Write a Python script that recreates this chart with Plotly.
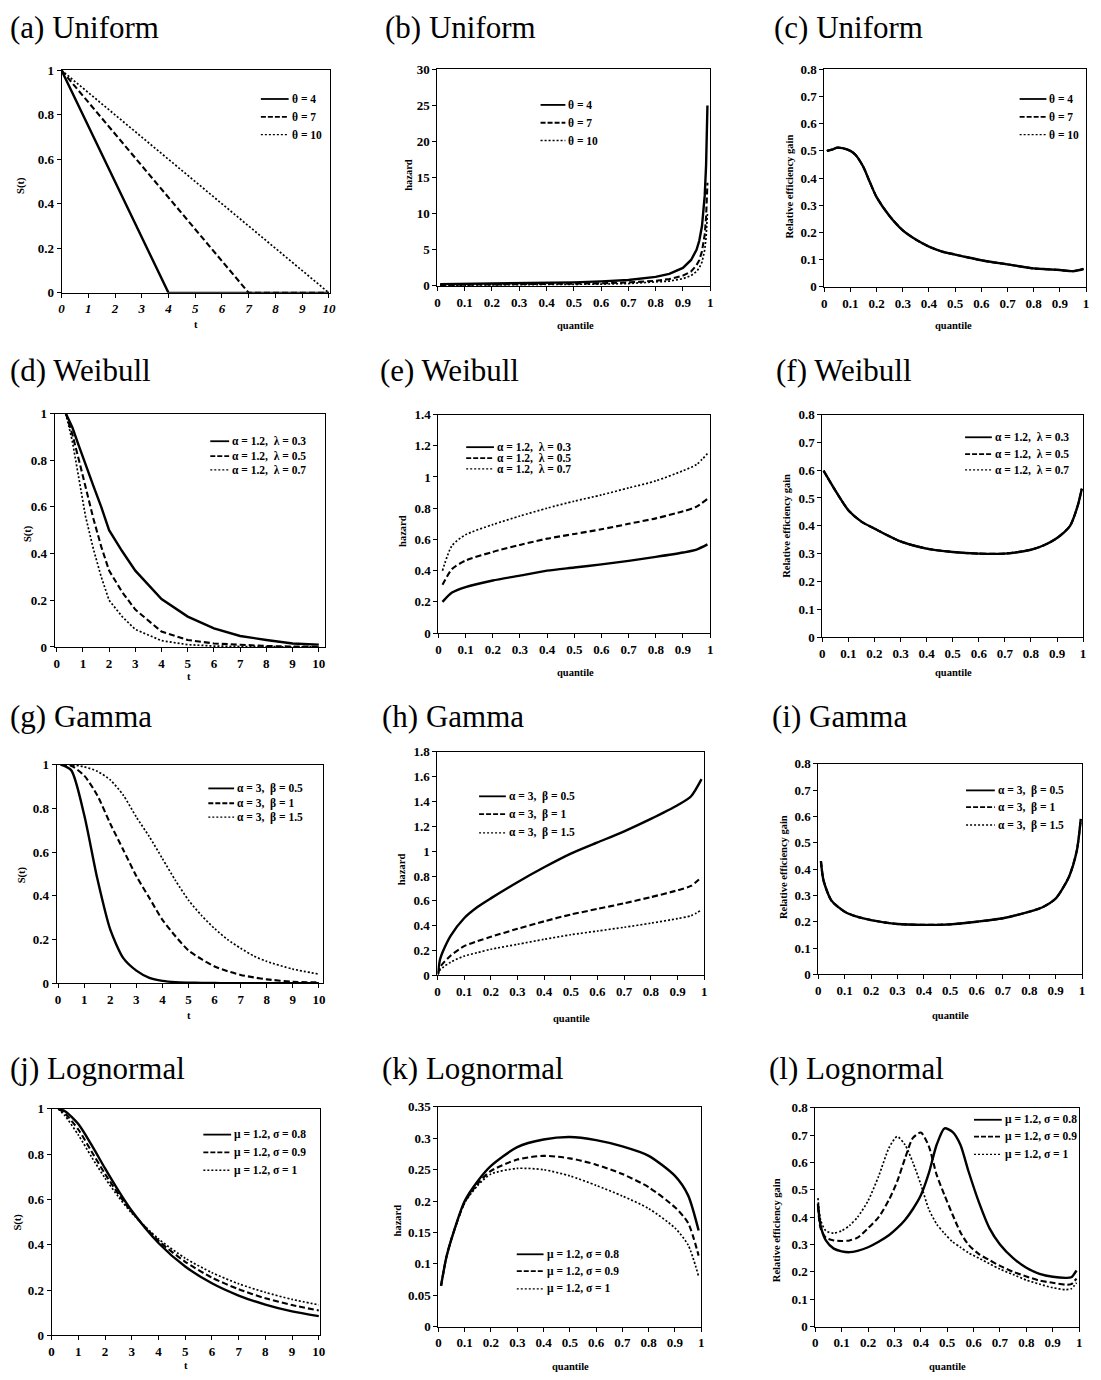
import plotly.graph_objects as go

W, H = 1101, 1380
SERIF = "Liberation Serif, Times New Roman, serif"

# ---------------- data ----------------
# (a) Uniform survival
T_UNIF = [0, 1, 2, 3, 4, 5, 6, 7, 8, 9, 10]
S_UNIF_4 = [1.0, 0.75, 0.5, 0.25, 0.0, 0.0, 0.0, 0.0, 0.0, 0.0, 0.0]
S_UNIF_7 = [1.0, 0.857, 0.714, 0.571, 0.429, 0.286, 0.143, 0.0, 0.0, 0.0, 0.0]
S_UNIF_10 = [1.0, 0.9, 0.8, 0.7, 0.6, 0.5, 0.4, 0.3, 0.2, 0.1, 0.0]

# (b) Uniform hazard by quantile
Q_B = [0.01, 0.1, 0.2, 0.3, 0.4, 0.5, 0.6, 0.7, 0.8, 0.85, 0.9, 0.93, 0.95, 0.96, 0.97, 0.98, 0.985, 0.99]
H_UNIF_4 = [0.25, 0.28, 0.31, 0.36, 0.42, 0.5, 0.63, 0.83, 1.25, 1.67, 2.5, 3.6, 5.0, 6.25, 8.3, 12.5, 16.7, 25.0]
H_UNIF_7 = [0.14, 0.16, 0.18, 0.2, 0.24, 0.29, 0.36, 0.48, 0.71, 0.95, 1.43, 2.0, 2.86, 3.57, 4.8, 7.1, 9.5, 14.3]
H_UNIF_10 = [0.1, 0.11, 0.125, 0.14, 0.17, 0.2, 0.25, 0.33, 0.5, 0.67, 1.0, 1.43, 2.0, 2.5, 3.3, 5.0, 6.7, 10.0]

# (c) Uniform relative efficiency gain (the three curves coincide)
Q_C = [0.01, 0.03, 0.05, 0.07, 0.1, 0.12, 0.15, 0.17, 0.2, 0.25, 0.3, 0.35, 0.4, 0.45, 0.5,
       0.55, 0.6, 0.65, 0.7, 0.75, 0.8, 0.85, 0.9, 0.95, 0.99]
G_UNIF = [0.50, 0.505, 0.512, 0.51, 0.50, 0.485, 0.44, 0.395, 0.33, 0.26, 0.208, 0.174, 0.148, 0.13, 0.119,
          0.108, 0.098, 0.09, 0.083, 0.075, 0.068, 0.065, 0.062, 0.058, 0.066]

# (d) Weibull survival
T_D = [0.35, 0.6, 0.85, 1.1, 1.4, 1.7, 2, 2.5, 3, 4, 5, 6, 7, 8, 9, 10]
S_WEIB_03 = [1.0, 0.94, 0.86, 0.78, 0.69, 0.60, 0.50, 0.41, 0.327, 0.205, 0.13, 0.08, 0.047, 0.03, 0.015, 0.01]
S_WEIB_05 = [1.0, 0.91, 0.80, 0.68, 0.55, 0.43, 0.327, 0.235, 0.16, 0.066, 0.03, 0.015, 0.008, 0.004, 0.002, 0.001]
S_WEIB_07 = [1.0, 0.88, 0.72, 0.56, 0.42, 0.30, 0.20, 0.13, 0.075, 0.027, 0.01, 0.004, 0.002, 0.001, 0.0, 0.0]

# (e) Weibull hazard by quantile
Q_E = [0.015, 0.05, 0.1, 0.2, 0.3, 0.4, 0.5, 0.6, 0.7, 0.8, 0.9, 0.95, 0.99]
H_WEIB_03 = [0.20, 0.26, 0.295, 0.337, 0.368, 0.40, 0.42, 0.44, 0.463, 0.488, 0.516, 0.535, 0.568]
H_WEIB_05 = [0.31, 0.41, 0.465, 0.52, 0.565, 0.605, 0.635, 0.665, 0.70, 0.735, 0.78, 0.81, 0.86]
H_WEIB_07 = [0.40, 0.56, 0.63, 0.695, 0.75, 0.80, 0.845, 0.885, 0.93, 0.975, 1.04, 1.08, 1.15]

# (f) Weibull relative efficiency gain
Q_F = [0.005, 0.05, 0.1, 0.15, 0.2, 0.3, 0.4, 0.5, 0.6, 0.7, 0.8, 0.85, 0.9, 0.95, 0.98, 0.995]
G_WEIB = [0.598, 0.527, 0.456, 0.415, 0.39, 0.344, 0.318, 0.306, 0.30, 0.30, 0.314, 0.33, 0.356, 0.40, 0.474, 0.533]

# (g) Gamma survival
T_G = [0.1, 0.5, 1, 1.5, 2, 2.5, 3, 3.5, 4, 4.5, 5, 5.5, 6, 6.5, 7, 7.5, 8, 9, 10]
S_GAM_05 = [1.0, 0.975, 0.77, 0.48, 0.245, 0.115, 0.058, 0.025, 0.011, 0.005, 0.003, 0.002, 0.001,
            0.0, 0.0, 0.0, 0.0, 0.0, 0.0]
S_GAM_1 = [1.0, 0.995, 0.95, 0.86, 0.73, 0.61, 0.49, 0.39, 0.29, 0.215, 0.15, 0.11, 0.077,
           0.055, 0.038, 0.027, 0.018, 0.007, 0.004]
S_GAM_15 = [1.0, 1.0, 0.99, 0.97, 0.93, 0.86, 0.76, 0.67, 0.57, 0.47, 0.38, 0.31, 0.25,
            0.20, 0.16, 0.125, 0.10, 0.065, 0.042]

# (h) Gamma hazard by quantile
Q_H = [0.002, 0.01, 0.02, 0.05, 0.1, 0.15, 0.2, 0.3, 0.4, 0.5, 0.6, 0.7, 0.8, 0.9, 0.95, 0.99]
H_GAM_05 = [0.02, 0.13, 0.19, 0.32, 0.46, 0.55, 0.62, 0.75, 0.87, 0.98, 1.07, 1.16, 1.26, 1.37, 1.44, 1.58]
H_GAM_1 = [0.01, 0.065, 0.095, 0.16, 0.235, 0.275, 0.31, 0.375, 0.435, 0.49, 0.535, 0.58, 0.63, 0.685, 0.72, 0.79]
H_GAM_15 = [0.007, 0.043, 0.063, 0.107, 0.155, 0.183, 0.21, 0.25, 0.29, 0.327, 0.357, 0.387, 0.42, 0.457, 0.48, 0.527]

# (i) Gamma relative efficiency gain
Q_I = [0.01, 0.02, 0.05, 0.1, 0.15, 0.2, 0.3, 0.4, 0.5, 0.6, 0.7, 0.8, 0.85, 0.9, 0.95, 0.98, 0.995]
G_GAM = [0.43, 0.356, 0.28, 0.238, 0.218, 0.206, 0.191, 0.188, 0.19, 0.20, 0.213, 0.238, 0.255, 0.288, 0.37, 0.47, 0.59]

# (j) Lognormal survival
T_J = [0.25, 0.5, 1, 1.5, 2, 2.5, 3, 4, 5, 6, 7, 8, 9, 10]
S_LN_08 = [1.0, 0.99, 0.933, 0.84, 0.737, 0.639, 0.55, 0.408, 0.304, 0.23, 0.176, 0.136, 0.106, 0.085]
S_LN_09 = [1.0, 0.98, 0.909, 0.811, 0.713, 0.624, 0.545, 0.418, 0.325, 0.255, 0.204, 0.164, 0.134, 0.11]
S_LN_1 = [1.0, 0.97, 0.885, 0.787, 0.694, 0.612, 0.54, 0.426, 0.341, 0.277, 0.228, 0.19, 0.159, 0.135]

# (k) Lognormal hazard by quantile
Q_K = [0.01, 0.03, 0.05, 0.1, 0.15, 0.2, 0.3, 0.4, 0.5, 0.6, 0.7, 0.8, 0.9, 0.95, 0.99]
H_LN_08 = [0.065, 0.11, 0.14, 0.20, 0.232, 0.256, 0.286, 0.298, 0.302, 0.297, 0.287, 0.272, 0.24, 0.209, 0.153]
H_LN_09 = [0.065, 0.11, 0.14, 0.198, 0.228, 0.248, 0.266, 0.272, 0.268, 0.258, 0.243, 0.222, 0.19, 0.165, 0.113]
H_LN_1 = [0.065, 0.11, 0.14, 0.197, 0.225, 0.243, 0.252, 0.25, 0.24, 0.225, 0.208, 0.188, 0.157, 0.13, 0.08]

# (l) Lognormal relative efficiency gain
Q_L = [0.01, 0.02, 0.04, 0.07, 0.1, 0.13, 0.16, 0.2, 0.24, 0.28, 0.31, 0.34, 0.37, 0.4, 0.43,
       0.46, 0.49, 0.52, 0.55, 0.58, 0.62, 0.66, 0.7, 0.75, 0.8, 0.85, 0.9, 0.95, 0.97, 0.99]
G_LN_08 = [0.45, 0.37, 0.315, 0.285, 0.275, 0.272, 0.277, 0.29, 0.31, 0.335, 0.36, 0.39, 0.43, 0.48, 0.56,
           0.665, 0.725, 0.712, 0.665, 0.57, 0.455, 0.36, 0.30, 0.25, 0.215, 0.193, 0.182, 0.178, 0.18, 0.205]
G_LN_09 = [0.44, 0.36, 0.325, 0.315, 0.313, 0.315, 0.325, 0.36, 0.40, 0.465, 0.53, 0.615, 0.69, 0.71, 0.66,
           0.555, 0.48, 0.41, 0.345, 0.30, 0.265, 0.243, 0.222, 0.20, 0.183, 0.168, 0.16, 0.153, 0.155, 0.175]
G_LN_1 = [0.47, 0.39, 0.35, 0.342, 0.35, 0.37, 0.40, 0.46, 0.55, 0.655, 0.695, 0.665, 0.60, 0.52, 0.43,
          0.375, 0.34, 0.31, 0.29, 0.27, 0.25, 0.23, 0.21, 0.19, 0.17, 0.155, 0.142, 0.135, 0.138, 0.16]

THETA_LABELS = ["\u03b8 = 4", "\u03b8 = 7", "\u03b8 = 10"]
WEIBULL_LABELS = ["\u03b1 = 1.2,\u00a0 \u03bb = 0.3", "\u03b1 = 1.2,\u00a0 \u03bb = 0.5", "\u03b1 = 1.2,\u00a0 \u03bb = 0.7"]
GAMMA_LABELS = ["\u03b1 = 3,\u00a0 \u03b2 = 0.5", "\u03b1 = 3,\u00a0 \u03b2 = 1", "\u03b1 = 3,\u00a0 \u03b2 = 1.5"]
LOGN_LABELS = ["\u03bc = 1.2, \u03c3 = 0.8", "\u03bc = 1.2, \u03c3 = 0.9", "\u03bc = 1.2, \u03c3 = 1"]

# ---------------- styling ----------------
STYLES = {
    "solid": dict(color="black", width=2.4, dash="solid"),
    "dash": dict(color="black", width=2.1, dash="6px,3px"),
    "dot": dict(color="black", width=1.7, dash="2px,2px"),
}
LEG_STYLES = {
    "solid": dict(color="black", width=1.8),
    "dash": dict(color="black", width=1.8, dash="5px,2px"),
    "dot": dict(color="black", width=1.4, dash="2px,2px"),
}
ORDER = ["solid", "dash", "dot"]

# panel boxes are (left, right, top, bottom) in pixels
panels = [
    dict(title="(a) Uniform", tpos=(5, 21), box=(59, 330, 64, 289), xr=[0, 10.05], yr=[0, 1], xdt=1, ydt=0.2,
         xl="t", xlp=(195, 321), yl="S(t)", ylp=(18, 180), italic_x=True, shape="linear",
         series=[(T_UNIF, S_UNIF_4), (T_UNIF, S_UNIF_7), (T_UNIF, S_UNIF_10)],
         labels=THETA_LABELS, leg=(260, 288, [93, 111, 129])),
    dict(title="(b) Uniform", tpos=(383, 21), box=(438, 713, 63, 282), xr=[0, 1], yr=[0, 30], xdt=0.1, ydt=5,
         xl="quantile", xlp=(577, 322), yl="hazard", ylp=(408, 170), shape="linear",
         series=[(Q_B, H_UNIF_4), (Q_B, H_UNIF_7), (Q_B, H_UNIF_10)],
         labels=THETA_LABELS, leg=(542, 567, [99, 117, 135])),
    dict(title="(c) Uniform", tpos=(775, 21), box=(828, 1092, 63, 283), xr=[0, 1], yr=[0, 0.8], xdt=0.1, ydt=0.1,
         xl="quantile", xlp=(958, 322), yl="Relative efficiency gain", ylp=(792, 182), shape="spline",
         series=[(Q_C, G_UNIF), (Q_C, G_UNIF), (Q_C, G_UNIF)],
         labels=THETA_LABELS, leg=(1025, 1052, [93, 111, 129])),
    dict(title="(d) Weibull", tpos=(5, 367), box=(52, 325, 411, 647), xr=[-0.08, 10.25], yr=[0, 1], xdt=1, ydt=0.2,
         xl="t", xlp=(188, 677), yl="S(t)", ylp=(25, 532), shape="linear",
         series=[(T_D, S_WEIB_03), (T_D, S_WEIB_05), (T_D, S_WEIB_07)],
         labels=WEIBULL_LABELS, leg=(209, 228, [439, 454, 468])),
    dict(title="(e) Weibull", tpos=(378, 367), box=(439, 713, 412, 633), xr=[0, 1], yr=[0, 1.4], xdt=0.1, ydt=0.2,
         xl="quantile", xlp=(577, 673), yl="hazard", ylp=(403, 530), shape="spline",
         series=[(Q_E, H_WEIB_03), (Q_E, H_WEIB_05), (Q_E, H_WEIB_07)],
         labels=WEIBULL_LABELS, leg=(467, 495, [445, 456, 467])),
    dict(title="(f) Weibull", tpos=(777, 367), box=(826, 1089, 412, 637), xr=[0, 1], yr=[0, 0.8], xdt=0.1, ydt=0.1,
         xl="quantile", xlp=(958, 673), yl="Relative efficiency gain", ylp=(790, 525), shape="spline",
         series=[(Q_F, G_WEIB), (Q_F, G_WEIB), (Q_F, G_WEIB)],
         labels=WEIBULL_LABELS, leg=(970, 997, [435, 452, 468])),
    dict(title="(g) Gamma", tpos=(5, 717), box=(54, 323, 766, 987), xr=[-0.06, 10.17], yr=[0, 1], xdt=1, ydt=0.2,
         xl="t", xlp=(188, 1020), yl="S(t)", ylp=(20, 877), shape="spline",
         series=[(T_G, S_GAM_05), (T_G, S_GAM_1), (T_G, S_GAM_15)],
         labels=GAMMA_LABELS, leg=(207, 233, [790, 805, 819])),
    dict(title="(h) Gamma", tpos=(380, 717), box=(438, 707, 753, 979), xr=[0, 1], yr=[0, 1.8], xdt=0.1, ydt=0.2,
         xl="quantile", xlp=(573, 1023), yl="hazard", ylp=(402, 872), shape="spline",
         series=[(Q_H, H_GAM_05), (Q_H, H_GAM_1), (Q_H, H_GAM_15)],
         labels=GAMMA_LABELS, leg=(480, 507, [798, 816, 835])),
    dict(title="(i) Gamma", tpos=(773, 717), box=(822, 1088, 765, 978), xr=[0, 1], yr=[0, 0.8], xdt=0.1, ydt=0.1,
         xl="quantile", xlp=(955, 1020), yl="Relative efficiency gain", ylp=(787, 870), shape="spline",
         series=[(Q_I, G_GAM), (Q_I, G_GAM), (Q_I, G_GAM)],
         labels=GAMMA_LABELS, leg=(971, 1000, [792, 809, 827])),
    dict(title="(j) Lognormal", tpos=(5, 1073), box=(49, 320, 1114, 1343), xr=[0, 10.06], yr=[0, 1], xdt=1, ydt=0.2,
         xl="t", xlp=(185, 1373), yl="S(t)", ylp=(15, 1228), shape="spline",
         series=[(T_J, S_LN_08), (T_J, S_LN_09), (T_J, S_LN_1)],
         labels=LOGN_LABELS, leg=(202, 230, [1140, 1158, 1176])),
    dict(title="(k) Lognormal", tpos=(380, 1073), box=(439, 704, 1112, 1334), xr=[0, 1], yr=[0, 0.35], xdt=0.1, ydt=0.05,
         xl="quantile", xlp=(572, 1374), yl="hazard", ylp=(398, 1227), shape="spline",
         series=[(Q_K, H_LN_08), (Q_K, H_LN_09), (Q_K, H_LN_1)],
         labels=LOGN_LABELS, leg=(518, 545, [1261, 1278, 1296])),
    dict(title="(l) Lognormal", tpos=(770, 1073), box=(819, 1085, 1113, 1334), xr=[0, 1], yr=[0, 0.8], xdt=0.1, ydt=0.1,
         xl="quantile", xlp=(952, 1374), yl="Relative efficiency gain", ylp=(780, 1237), shape="spline",
         series=[(Q_L, G_LN_08), (Q_L, G_LN_09), (Q_L, G_LN_1)],
         labels=LOGN_LABELS, leg=(979, 1007, [1125, 1142, 1160])),
]


def fx(x):
    return x / W


def fy(y):
    return 1 - y / H


fig = go.Figure()
layout = {}
annotations = []
shapes = []
tick_font = dict(family=SERIF, size=13, color="black", weight="bold")
label_font = dict(family=SERIF, size=10.5, color="black", weight="bold")

for i, p in enumerate(panels, start=1):
    sfx = "" if i == 1 else str(i)
    left, right, top, bottom = p["box"]
    xf = dict(tick_font)
    if p.get("italic_x"):
        xf["style"] = "italic"
    layout["xaxis" + sfx] = dict(
        domain=[fx(left), fx(right)], range=p["xr"], anchor="y" + sfx,
        tick0=0, dtick=p["xdt"], ticks="outside", ticklen=4, tickwidth=1, tickcolor="black",
        showline=True, linecolor="black", linewidth=1, mirror=True,
        showgrid=False, zeroline=False, tickfont=xf, fixedrange=True,
    )
    layout["yaxis" + sfx] = dict(
        domain=[fy(bottom), fy(top)], range=p["yr"], anchor="x" + sfx,
        tick0=0, dtick=p["ydt"], ticks="outside", ticklen=4, tickwidth=1, tickcolor="black",
        showline=True, linecolor="black", linewidth=1, mirror=True,
        showgrid=False, zeroline=False, tickfont=tick_font, fixedrange=True,
    )

    # curves: dotted first so the solid line sits on top
    for k in (2, 1, 0):
        xs, ys = p["series"][k]
        line = dict(STYLES[ORDER[k]], shape=p["shape"])
        if p["shape"] == "spline":
            line["smoothing"] = 0.7
        fig.add_trace(go.Scatter(
            x=xs, y=ys, mode="lines", line=line, name=p["labels"][k],
            xaxis="x" + sfx, yaxis="y" + sfx, showlegend=False, hoverinfo="skip",
        ))

    # legend keys
    lx0, lx1, lys = p["leg"]
    for k, ly in enumerate(lys):
        shapes.append(dict(type="line", xref="paper", yref="paper",
                           x0=fx(lx0), x1=fx(lx1), y0=fy(ly), y1=fy(ly),
                           line=LEG_STYLES[ORDER[k]]))
        annotations.append(dict(text=p["labels"][k], xref="paper", yref="paper",
                                x=fx(lx1 + 1), y=fy(ly), xanchor="left", yanchor="middle",
                                showarrow=False, font=dict(family=SERIF, size=11.5, color="black", weight="bold")))

    # panel heading
    tx, ty = p["tpos"]
    annotations.append(dict(text=p["title"], xref="paper", yref="paper", x=fx(tx), y=fy(ty),
                            xanchor="left", yanchor="middle", showarrow=False,
                            font=dict(family=SERIF, size=31, color="black")))
    # axis titles
    ax, ay = p["xlp"]
    annotations.append(dict(text=p["xl"], xref="paper", yref="paper", x=fx(ax), y=fy(ay),
                            xanchor="center", yanchor="middle", showarrow=False, font=label_font))
    bx, by = p["ylp"]
    annotations.append(dict(text=p["yl"], xref="paper", yref="paper", x=fx(bx), y=fy(by),
                            xanchor="center", yanchor="middle", showarrow=False, textangle=-90,
                            font=label_font))

fig.update_layout(
    width=W, height=H, margin=dict(l=0, r=0, t=0, b=0),
    paper_bgcolor="white", plot_bgcolor="white",
    showlegend=False, annotations=annotations, shapes=shapes, **layout,
)
fig.write_html("out.html", config={"displayModeBar": False})
